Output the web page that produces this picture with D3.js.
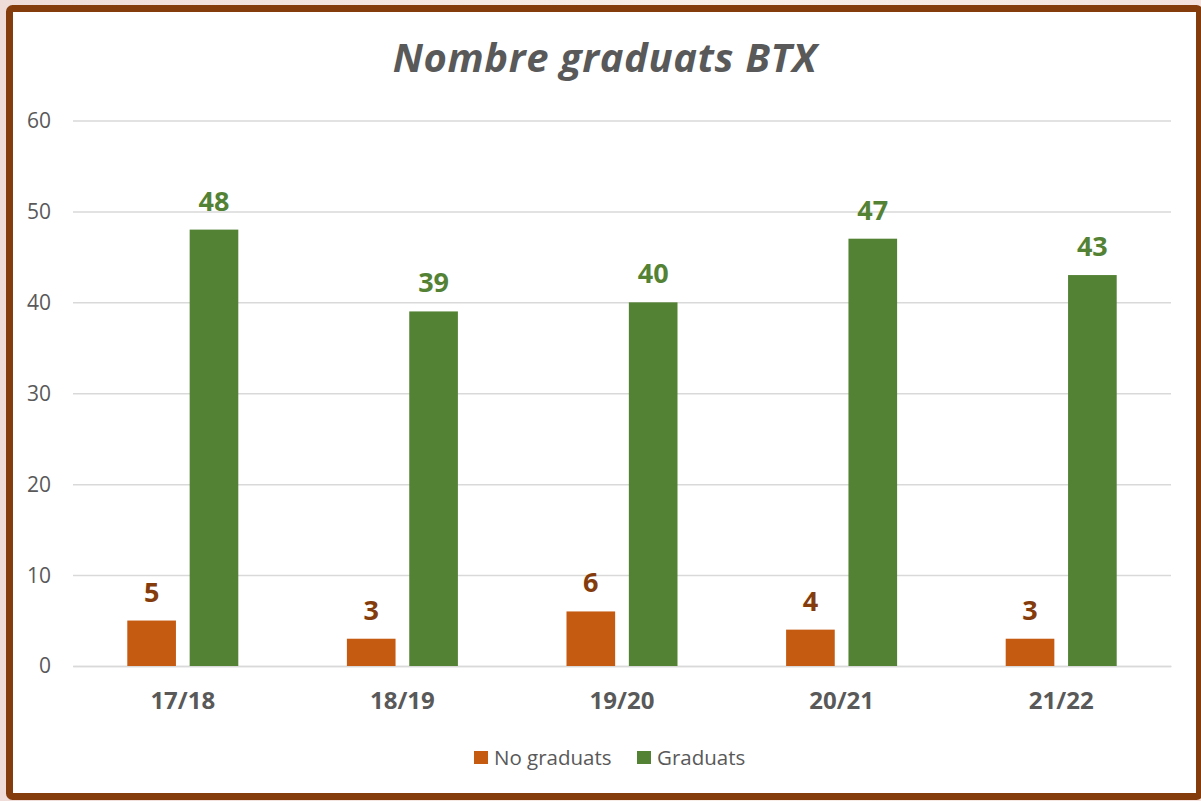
<!DOCTYPE html>
<html><head><meta charset="utf-8">
<script src="https://cdn.jsdelivr.net/npm/d3@7"></script>
<style>
html,body{margin:0;padding:0;}
body{width:1201px;height:801px;overflow:hidden;background:linear-gradient(90deg,#efdcd8 0%,#f6e8e3 40%,#f9efe9 60%,#f3e2dd 100%);}
svg{display:block;}
</style></head>
<body>
<svg id="chart" width="1201" height="801"></svg>
<script>
const categories = ["17/18","18/19","19/20","20/21","21/22"];
const noGraduats = [5,3,6,4,3];
const graduats = [48,39,40,47,43];
const seriesNames = ["No graduats","Graduats"];
const yTicks = [0,10,20,30,40,50,60];
const title = "Nombre graduats BTX";

const font = "'Open Sans', 'Noto Sans', sans-serif";
const colors = ["#C55A11","#548235"];
const labelColors = ["#843C0C","#548235"];
const svg = d3.select("#chart");

svg.append("rect").attr("x",9.5).attr("y",8.5).attr("width",1190).attr("height",788)
  .attr("rx",3).attr("fill","#fff").attr("stroke","#843C0C").attr("stroke-width",7);

const x0 = d3.scaleBand().domain(categories).range([73,1171]).paddingInner(0).paddingOuter(0);
const y = d3.scaleLinear().domain([0,60]).range([666,120.5]);
const x1 = d3.scaleBand().domain(seriesNames).range([0,111]).paddingInner(0.22);

// gridlines
const gy = svg.append("g").attr("transform","translate(73,0)")
  .call(d3.axisLeft(y).tickValues(yTicks).tickSize(-1098).tickPadding(22).tickFormat(d3.format("d")));
gy.select(".domain").remove();
gy.selectAll(".tick line").attr("stroke","#D9D9D9").attr("stroke-width",1.5);
gy.selectAll(".tick text").attr("fill","#595959").attr("font-family",font).attr("font-size",21).attr("dy","0.33em");

// x axis
const gx = svg.append("g").attr("transform","translate(0,666)")
  .call(d3.axisBottom(x0).tickSize(0).tickPadding(22));
gx.select(".domain").attr("stroke","#D9D9D9").attr("stroke-width",1.5);
gx.selectAll(".tick text").attr("fill","#595959").attr("font-family",font).attr("font-size",24).attr("font-weight","bold").attr("dy","0.88em");

const data = categories.map((c,i)=>({cat:c, vals:[noGraduats[i],graduats[i]]}));
const groups = svg.append("g").selectAll("g").data(data).join("g")
  .attr("transform",d=>`translate(${x0(d.cat)+x0.bandwidth()/2-55.5},0)`);
groups.selectAll("rect").data(d=>d.vals.map((v,j)=>({v,j}))).join("rect")
  .attr("x",d=>x1(seriesNames[d.j])).attr("width",x1.bandwidth())
  .attr("y",d=>y(d.v)).attr("height",d=>y(0)-y(d.v))
  .attr("fill",d=>colors[d.j]);
groups.selectAll("text").data(d=>d.vals.map((v,j)=>({v,j}))).join("text")
  .attr("x",d=>x1(seriesNames[d.j])+x1.bandwidth()/2).attr("y",d=>y(d.v)-19)
  .attr("text-anchor","middle").attr("font-family",font).attr("font-weight","bold")
  .attr("font-size",27).attr("fill",d=>labelColors[d.j]).text(d=>d.v);

// title
svg.append("text").attr("x",605).attr("y",72).attr("text-anchor","middle")
  .attr("font-family",font).attr("font-size",40).attr("font-weight","bold").attr("font-style","italic")
  .attr("letter-spacing",0.6)
  .attr("fill","#595959").text(title);

// legend
const legX = [474,637];
const leg = svg.append("g").selectAll("g").data(seriesNames).join("g")
  .attr("transform",(d,i)=>`translate(${legX[i]},751)`);
leg.append("rect").attr("width",14).attr("height",13).attr("fill",(d,i)=>colors[i]);
leg.append("text").attr("x",20).attr("y",13.5).attr("font-family",font).attr("font-size",20.5)
  .attr("fill","#595959").text(d=>d);
</script>
</body></html>
